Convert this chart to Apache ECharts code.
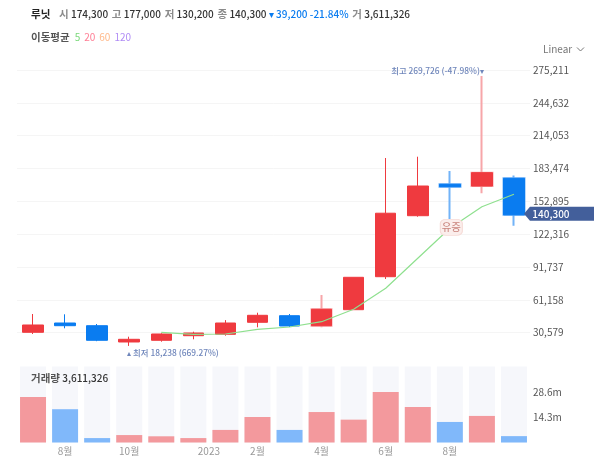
<!DOCTYPE html>
<html lang="ko">

<head>
    <meta charset="utf-8">
    <style>
        html, body { margin: 0; padding: 0; background: #fff; }
    </style>
</head>

<body>
    <div id="main" style="width: 600px;height:464px;"></div>
    <script src="https://cdn.jsdelivr.net/npm/echarts@6/dist/echarts.min.js"></script>
    <script type="text/javascript">
    var fontName = '"Noto Sans CJK KR", "Noto Sans", sans-serif';

    // 월봉 데이터 (2022-07 ~ 2023-10)
    var categories = ['2022-07', '2022-08', '2022-09', '2022-10', '2022-11', '2022-12', '2023-01', '2023-02',
        '2023-03', '2023-04', '2023-05', '2023-06', '2023-07', '2023-08', '2023-09', '2023-10'];
    var xLabels = ['', '8월', '', '10월', '', '', '2023', '2월', '', '4월', '', '6월', '', '8월', '', ''];
    var opens = [30920, 39580, 37070, 21890, 23470, 27750, 29060, 40230, 46380, 37070, 51970, 82700, 139510, 168750, 167170, 174300];
    var closes = [37720, 37070, 23470, 24400, 29340, 30270, 39580, 46750, 36790, 52340, 82140, 141840, 167170, 166520, 179560, 140300];
    var lows = [29340, 34640, 22630, 18238, 22170, 24400, 27750, 35570, 35850, 35570, 51970, 80560, 138580, 136160, 160370, 130200];
    var highs = [47960, 47680, 38650, 26820, 29990, 31480, 42280, 49170, 47960, 65660, 82140, 193240, 194460, 181140, 269726, 177000];
    var ma5 = [null, null, null, null, 30920, 29060, 29340, 33710, 35850, 40790, 52340, 71900, 99830, 127770, 147890, 159440];
    var volumes = [25.7, 18.8, 2.5, 4.2, 3.5, 2.5, 7.1, 14.4, 7.1, 17.2, 12.9, 28.5, 20.1, 11.6, 15.0, 3.6];
    var priceTicks = [30579, 61158, 91737, 122316, 152895, 183474, 214053, 244632, 275211];
    var volumeTicks = [14.3, 28.6, 42.9];

    var upColor = '#ef3a3f';
    var downColor = '#0a7cf0';

    // 꼬리가 두껍고 연하게 보이는 봉
    var softWicks = [9, 13, 14, 15];

    var candleData = categories.map(function (c, i) {
        var item = { value: [opens[i], closes[i], lows[i], highs[i]] };
        if (softWicks.indexOf(i) >= 0) {
            item.itemStyle = closes[i] >= opens[i]
                ? { borderColor: '#f7a6a9', borderWidth: 2 }
                : { borderColor0: '#72b3f8', borderWidth: 2 };
        }
        return item;
    });
    // 연한 테두리 위에 몸통만 다시 그림
    var bodyData = categories.map(function (c, i) {
        if (softWicks.indexOf(i) < 0) return '-';
        return [opens[i], closes[i], Math.min(opens[i], closes[i]), Math.max(opens[i], closes[i])];
    });
    var volumeData = categories.map(function (c, i) {
        return {
            value: volumes[i],
            itemStyle: { color: closes[i] >= opens[i] ? '#f3999d' : '#80b8fa' }
        };
    });

    var myChart = echarts.init(document.getElementById('main'));
    myChart.setOption({
        animation: false,
        backgroundColor: '#fff',
        textStyle: { fontFamily: fontName },
        title: [{
            left: 31,
            top: 9,
            padding: 0,
            text: '{n|루닛}{l|시} {v|174,300}{l|고} {v|177,000}{l|저} {v|130,200}{l|종} {v|140,300} {b|▾ 39,200 -21.84%}{l|거} {v|3,611,326}',
            textStyle: {
                fontSize: 10,
                rich: {
                    n: { fontFamily: fontName, fontSize: 10.5, fontWeight: 'bold', color: '#222', padding: [0, 5, 0, 0] },
                    l: { fontFamily: fontName, fontSize: 10.5, color: '#8b8b8b', padding: [0, 0, 0, 3.7] },
                    v: { fontFamily: fontName, fontSize: 10, fontWeight: 500, color: '#333' },
                    b: { fontFamily: fontName, fontSize: 10, fontWeight: 500, color: '#0a7cf0' }
                }
            }
        }, {
            left: 31,
            top: 32,
            padding: 0,
            text: '{l|이동평균}{a|5}{b|20}{c|60}{d|120}',
            textStyle: {
                fontSize: 10,
                rich: {
                    l: { fontFamily: fontName, fontSize: 10.5, color: '#555' },
                    a: { fontFamily: fontName, fontSize: 10, fontWeight: 'normal', color: '#78d878', padding: [0, 0, 0, 5] },
                    b: { fontFamily: fontName, fontSize: 10, fontWeight: 'normal', color: '#ff7d94', padding: [0, 0, 0, 4] },
                    c: { fontFamily: fontName, fontSize: 10, fontWeight: 'normal', color: '#ffb98a', padding: [0, 0, 0, 4] },
                    d: { fontFamily: fontName, fontSize: 10, fontWeight: 'normal', color: '#b08cf5', padding: [0, 0, 0, 4] }
                }
            }
        }, {
            left: 31,
            top: 373,
            padding: 0,
            text: '{l|거래량} {v|3,611,326}',
            textStyle: {
                fontSize: 10,
                rich: {
                    l: { fontFamily: fontName, fontSize: 10.5, color: '#555' },
                    v: { fontFamily: fontName, fontSize: 10, fontWeight: 500, color: '#333' }
                }
            },
            z: 10
        }],
        graphic: [{
            type: 'text',
            left: 543,
            top: 44,
            style: { text: 'Linear', fontFamily: fontName, fontSize: 10, fill: '#777' }
        }, {
            type: 'polyline',
            shape: { points: [[577, 47.5], [580.5, 51], [584, 47.5]] },
            style: { stroke: '#777', lineWidth: 1, fill: null }
        }],
        grid: [{
            left: 17,
            width: 513,
            top: 70,
            height: 295.5
        }, {
            left: 17,
            width: 513,
            top: 366.5,
            height: 76
        }],
        xAxis: [{
            type: 'category',
            data: categories,
            gridIndex: 0,
            axisLine: { show: false },
            axisTick: { show: false },
            axisLabel: { show: false },
            splitLine: { show: false }
        }, {
            type: 'category',
            data: categories,
            gridIndex: 1,
            axisLine: { show: false },
            axisTick: { show: false },
            splitLine: { show: false },
            axisLabel: {
                interval: 0,
                margin: 4,
                fontSize: 10,
                color: '#999',
                formatter: function (v, i) {
                    // 2023 라벨만 왼쪽으로 치우쳐 있음
                    return xLabels[i] === '2023' ? '{y|2023}' : xLabels[i];
                },
                rich: { y: { fontSize: 10, color: '#999', padding: [0, 33, 0, 0] } }
            }
        }],
        yAxis: [{
            type: 'value',
            gridIndex: 0,
            position: 'right',
            min: 0,
            max: priceTicks[priceTicks.length - 1],
            interval: priceTicks[0],
            axisLine: { show: false },
            axisTick: { show: false },
            splitLine: { showMinLine: false, lineStyle: { color: '#f5f5f5', width: 1 } },
            axisLabel: {
                showMinLabel: false,
                margin: 3,
                fontSize: 10,
                color: '#555',
                formatter: function (v) { return v.toLocaleString('en-US'); }
            }
        }, {
            type: 'value',
            gridIndex: 1,
            position: 'right',
            min: 0,
            max: volumeTicks[2],
            interval: volumeTicks[0],
            axisLine: { show: false },
            axisTick: { show: false },
            splitLine: { show: false },
            axisLabel: {
                margin: 3,
                fontSize: 10,
                color: '#555',
                formatter: function (v) {
                    return v === volumeTicks[0] || v === volumeTicks[1] ? v + 'm' : '';
                }
            }
        }],
        series: [{
            name: '캔들',
            type: 'candlestick',
            xAxisIndex: 0,
            yAxisIndex: 0,
            data: candleData,
            barWidth: 21,
            itemStyle: {
                color: upColor,
                color0: downColor,
                borderColor: upColor,
                borderColor0: downColor,
                borderWidth: 1
            },
            markPoint: {
                silent: true,
                animation: false,
                data: [{
                    // 최고가 표시
                    coord: [14, highs[14]],
                    symbol: 'circle',
                    symbolSize: 0,
                    label: {
                        show: true,
                        position: 'inside',
                        align: 'right',
                        verticalAlign: 'middle',
                        offset: [2, -5],
                        fontFamily: fontName,
                        fontSize: 8.4,
                        fontWeight: 500,
                        color: '#6f86bb',
                        formatter: '최고 269,726 (-47.98%)▾'
                    }
                }, {
                    // 최저가 표시
                    coord: [3, lows[3]],
                    symbol: 'circle',
                    symbolSize: 0,
                    label: {
                        show: true,
                        position: 'inside',
                        align: 'left',
                        verticalAlign: 'middle',
                        offset: [-2, 6.5],
                        fontFamily: fontName,
                        fontSize: 8.4,
                        fontWeight: 500,
                        color: '#6f86bb',
                        formatter: '▴ 최저 18,238 (669.27%)'
                    }
                }, {
                    // 유상증자 뱃지
                    coord: [13, lows[13]],
                    symbol: 'roundRect',
                    symbolSize: [22, 16],
                    symbolOffset: [1.5, 8],
                    itemStyle: { color: '#fbeeec', borderColor: '#f6dcd8', borderWidth: 1 },
                    label: {
                        show: true,
                        position: 'inside',
                        fontFamily: fontName,
                        fontSize: 10.5,
                        color: '#c9837c',
                        formatter: '유증'
                    }
                }, {
                    // 현재가 태그
                    coord: [15, closes[15]],
                    symbol: 'path://M6 0 L70 0 L70 14 L6 14 L0 7 Z',
                    symbolSize: [70, 14],
                    symbolOffset: [45, -1],
                    itemStyle: { color: '#435f9b' },
                    label: {
                        show: true,
                        position: 'inside',
                        offset: [-8, 0],
                        fontFamily: fontName,
                        fontSize: 10,
                        fontWeight: 500,
                        color: '#fff',
                        formatter: '140,300'
                    }
                }]
            }
        }, {
            name: '몸통',
            type: 'candlestick',
            xAxisIndex: 0,
            yAxisIndex: 0,
            data: bodyData,
            barWidth: 21,
            itemStyle: {
                color: upColor,
                color0: downColor,
                borderColor: upColor,
                borderColor0: downColor,
                borderWidth: 1
            }
        }, {
            name: 'MA5',
            type: 'line',
            xAxisIndex: 0,
            yAxisIndex: 0,
            data: ma5,
            symbol: 'none',
            smooth: false,
            lineStyle: { color: '#8fe08f', width: 1.2 }
        }, {
            name: '거래량',
            type: 'bar',
            xAxisIndex: 1,
            yAxisIndex: 1,
            data: volumeData,
            barWidth: 26,
            showBackground: true,
            backgroundStyle: { color: '#f6f7fb' }
        }]
    });
    </script>
</body>

</html>
